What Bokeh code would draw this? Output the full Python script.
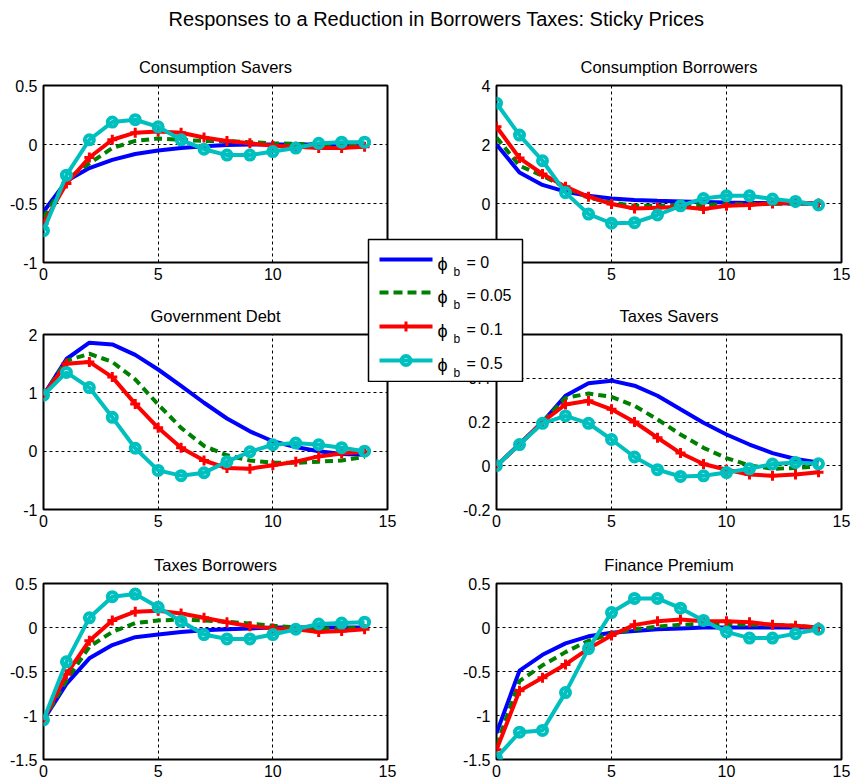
from bokeh.plotting import figure
from bokeh.models import Column, FixedTicker, Range1d
from bokeh.embed import file_html
from bokeh.resources import INLINE
from bokeh.core.properties import value

# ---------------- data ----------------
periods = list(range(15))
x_ticks = [0, 5, 10, 15]
phi_labels = ["0", "0.05", "0.1", "0.5"]
main_title = "Responses to a Reduction in Borrowers Taxes: Sticky Prices"

cs_titles = "Consumption Savers"
cs_phi0 = [-0.57, -0.31, -0.20, -0.13, -0.08, -0.05, -0.03, -0.015, -0.005, 0.0, 0.0, 0.0, 0.0, 0.0, 0.0]
cs_phi005 = [-0.62, -0.30, -0.16, -0.03, 0.03, 0.05, 0.04, 0.03, 0.03, 0.02, 0.01, 0.005, 0.0, 0.0, 0.0]
cs_phi01 = [-0.67, -0.33, -0.11, 0.04, 0.10, 0.11, 0.10, 0.06, 0.03, 0.01, -0.01, -0.02, -0.03, -0.03, -0.02]
cs_phi05 = [-0.73, -0.26, 0.04, 0.19, 0.21, 0.15, 0.04, -0.04, -0.09, -0.09, -0.06, -0.03, 0.01, 0.02, 0.02]
cs_yticks = [-1, -0.5, 0, 0.5]
cs_ylabels = ["-1", "-0.5", "0", "0.5"]

cb_title = "Consumption Borrowers"
cb_phi0 = [2.0, 1.05, 0.63, 0.40, 0.26, 0.17, 0.12, 0.09, 0.07, 0.05, 0.03, 0.02, 0.01, 0.0, 0.0]
cb_phi005 = [2.24, 1.28, 0.94, 0.54, 0.20, 0.03, -0.08, -0.08, -0.05, -0.05, -0.03, -0.02, -0.01, 0.0, 0.0]
cb_phi01 = [2.6, 1.54, 1.0, 0.57, 0.23, -0.02, -0.17, -0.14, -0.11, -0.19, -0.08, -0.05, 0.0, 0.03, 0.0]
cb_phi05 = [3.40, 2.32, 1.45, 0.37, -0.36, -0.67, -0.65, -0.39, -0.08, 0.17, 0.26, 0.26, 0.15, 0.07, -0.05]
cb_yticks = [-2, 0, 2, 4]
cb_ylabels = ["-2", "0", "2", "4"]

gd_title = "Government Debt"
gd_phi0 = [0.96, 1.58, 1.86, 1.83, 1.65, 1.40, 1.12, 0.83, 0.56, 0.34, 0.17, 0.07, 0.0, -0.05, -0.06]
gd_phi005 = [0.96, 1.55, 1.67, 1.53, 1.23, 0.80, 0.40, 0.09, -0.07, -0.16, -0.20, -0.20, -0.18, -0.16, -0.10]
gd_phi01 = [0.96, 1.50, 1.53, 1.27, 0.81, 0.40, 0.06, -0.16, -0.29, -0.30, -0.24, -0.18, -0.09, -0.04, -0.01]
gd_phi05 = [0.96, 1.35, 1.09, 0.58, 0.05, -0.33, -0.42, -0.37, -0.18, -0.01, 0.11, 0.14, 0.11, 0.06, 0.0]
gd_yticks = [-1, 0, 1, 2]
gd_ylabels = ["-1", "0", "1", "2"]

ts_title = "Taxes Savers"
ts_phi0 = [0.0, 0.10, 0.20, 0.32, 0.377, 0.389, 0.366, 0.32, 0.258, 0.197, 0.143, 0.097, 0.058, 0.031, 0.015]
ts_phi005 = [0.0, 0.097, 0.20, 0.31, 0.33, 0.315, 0.274, 0.212, 0.143, 0.082, 0.035, 0.002, -0.014, -0.01, -0.003]
ts_phi01 = [0.0, 0.097, 0.20, 0.28, 0.297, 0.258, 0.20, 0.128, 0.058, 0.008, -0.018, -0.04, -0.046, -0.04, -0.03]
ts_phi05 = [0.0, 0.097, 0.194, 0.228, 0.194, 0.12, 0.04, -0.018, -0.049, -0.046, -0.031, -0.014, 0.008, 0.015, 0.009]
ts_yticks = [-0.2, 0, 0.2, 0.4, 0.6]
ts_ylabels = ["-0.2", "0", "0.2", "0.4", "0.6"]

tb_title = "Taxes Borrowers"
tb_phi0 = [-1.05, -0.64, -0.35, -0.20, -0.11, -0.08, -0.05, -0.03, -0.02, -0.01, 0.0, 0.0, 0.0, 0.0, 0.0]
tb_phi005 = [-1.05, -0.60, -0.22, -0.05, 0.05, 0.08, 0.09, 0.08, 0.065, 0.045, 0.02, 0.0, -0.01, -0.01, 0.0]
tb_phi01 = [-1.05, -0.53, -0.15, 0.08, 0.18, 0.19, 0.16, 0.11, 0.06, 0.015, -0.01, -0.02, -0.05, -0.04, -0.02]
tb_phi05 = [-1.05, -0.39, 0.11, 0.35, 0.38, 0.23, 0.07, -0.08, -0.13, -0.13, -0.08, -0.02, 0.04, 0.05, 0.06]
tb_yticks = [-1.5, -1, -0.5, 0, 0.5]
tb_ylabels = ["-1.5", "-1", "-0.5", "0", "0.5"]

fp_title = "Finance Premium"
fp_phi0 = [-1.20, -0.49, -0.31, -0.18, -0.10, -0.06, -0.04, -0.02, -0.01, 0.0, 0.0, 0.0, 0.0, 0.0, 0.0]
fp_phi005 = [-1.34, -0.61, -0.43, -0.28, -0.15, -0.07, -0.02, 0.01, 0.03, 0.04, 0.04, 0.03, 0.03, 0.02, 0.0]
fp_phi01 = [-1.39, -0.72, -0.57, -0.42, -0.24, -0.09, 0.03, 0.07, 0.09, 0.07, 0.07, 0.06, 0.03, 0.02, 0.0]
fp_phi05 = [-1.48, -1.19, -1.17, -0.74, -0.24, 0.17, 0.33, 0.33, 0.22, 0.08, -0.05, -0.12, -0.12, -0.07, -0.02]
fp_yticks = [-1.5, -1, -0.5, 0, 0.5]
fp_ylabels = ["-1.5", "-1", "-0.5", "0", "0.5"]

# ---------------- style ----------------
FONT = "Liberation Sans"
BLUE, GREEN, RED, CYAN = "#0000FF", "#008000", "#FF0000", "#00BFBF"
LW = 4
GREEN_DASH = "8 5"
BL, BR = 43, 14  # common left/right borders (Bokeh aligns them inside a Column)


def pos(left, top):
    return {"position": "absolute", "left": f"{left}px", "top": f"{top}px"}


def panel(title, series, yticks, ylabels, left, top, fw, fh):
    p = figure(frame_width=fw, frame_height=fh,
               x_range=Range1d(0, 15), y_range=Range1d(yticks[0], yticks[-1]),
               output_backend="svg", toolbar_location=None,
               min_border_left=BL, min_border_right=BR,
               min_border_top=40, min_border_bottom=22,
               background_fill_color="white", border_fill_color="white",
               styles=pos(left, top))
    p.title.text = title
    p.title.align = "center"
    p.title.text_font = FONT
    p.title.text_font_size = "16.5px"
    p.title.text_font_style = "normal"
    p.title.text_color = "black"
    p.title.standoff = 20
    p.outline_line_color = "black"
    p.outline_line_width = 2
    p.outline_line_alpha = 1

    p.xaxis.ticker = FixedTicker(ticks=x_ticks)
    p.xaxis.major_label_overrides = {t: str(t) for t in x_ticks}
    p.yaxis.ticker = FixedTicker(ticks=yticks)
    p.yaxis.major_label_overrides = dict(zip(yticks, ylabels))
    for ax in (p.xaxis, p.yaxis):
        ax.axis_line_color = None
        ax.major_tick_out = 0
        ax.major_tick_in = 0
        ax.minor_tick_line_color = None
        ax.major_label_text_font = FONT
        ax.major_label_text_font_size = "16px"
        ax.major_label_text_color = "black"
    p.xaxis.major_label_standoff = 5
    p.yaxis.major_label_standoff = 6
    p.grid.grid_line_color = "black"
    p.grid.grid_line_dash = "3 3"
    p.grid.grid_line_width = 1

    b0, g05, r1, c5 = series
    p.line(periods, b0, line_color=BLUE, line_width=LW)
    p.line(periods, g05, line_color=GREEN, line_width=LW, line_dash=GREEN_DASH)
    p.line(periods, r1, line_color=RED, line_width=LW)
    p.scatter(periods, r1, marker="cross", size=10, line_color=RED, line_width=3)
    p.line(periods, c5, line_color=CYAN, line_width=LW)
    p.scatter(periods, c5, marker="circle", size=9, line_color=CYAN,
              fill_color=None, line_width=4)
    return p


LW_FW, RW_FW = 344, 345
panels = [
    panel(cs_titles, (cs_phi0, cs_phi005, cs_phi01, cs_phi05), cs_yticks, cs_ylabels, 0, 45, LW_FW, 177),
    panel(cb_title, (cb_phi0, cb_phi005, cb_phi01, cb_phi05), cb_yticks, cb_ylabels, 453, 45, RW_FW, 177),
    panel(gd_title, (gd_phi0, gd_phi005, gd_phi01, gd_phi05), gd_yticks, gd_ylabels, 0, 294, LW_FW, 175),
    panel(ts_title, (ts_phi0, ts_phi005, ts_phi01, ts_phi05), ts_yticks, ts_ylabels, 453, 294, RW_FW, 175),
    panel(tb_title, (tb_phi0, tb_phi005, tb_phi01, tb_phi05), tb_yticks, tb_ylabels, 0, 543, LW_FW, 176),
    panel(fp_title, (fp_phi0, fp_phi005, fp_phi01, fp_phi05), fp_yticks, fp_ylabels, 453, 543, RW_FW, 176),
]

# ---------------- header ----------------
HW = 854 - BL - BR
head = figure(title=None, frame_width=HW, frame_height=40,
              x_range=Range1d(BL, BL + HW), y_range=Range1d(40, 0),
              output_backend="svg", toolbar_location=None,
              min_border_left=BL, min_border_right=BR, min_border_top=0, min_border_bottom=0,
              x_axis_location=None, y_axis_location=None, styles=pos(0, 0),
              border_fill_color=None, background_fill_color=None)
head.outline_line_color = None
head.grid.visible = False
head.text(x=[436], y=[18], text=[main_title], text_font=value(FONT), text_font_size="20px",
          text_align="center", text_baseline="alphabetic", text_color="black")

# ---------------- legend ----------------
leg = figure(title=None, frame_width=154, frame_height=142,
             x_range=Range1d(0, 154), y_range=Range1d(142, 0),
             output_backend="svg", toolbar_location=None,
             min_border_left=BL, min_border_right=BR, min_border_top=1, min_border_bottom=1,
             x_axis_location=None, y_axis_location=None, styles=pos(368 - BL, 238),
             background_fill_color="white", border_fill_color=None)
leg.grid.visible = False
leg.outline_line_color = "black"
leg.outline_line_width = 1.5
rows = [20, 53, 87, 121]
colors = [BLUE, GREEN, RED, CYAN]
for i, (ry, col, lab) in enumerate(zip(rows, colors, phi_labels)):
    kw = dict(line_color=col, line_width=LW)
    if i == 1:
        kw["line_dash"] = "9 5"
    leg.line([11, 64], [ry, ry], **kw)
    if i == 2:
        leg.scatter([37.5], [ry], marker="cross", size=10, line_color=RED, line_width=3)
    if i == 3:
        leg.scatter([37.5], [ry], marker="circle", size=9, line_color=CYAN, fill_color=None, line_width=4)
    leg.text(x=[69], y=[ry + 4], text=["\u03d5"], text_font=value(FONT), text_font_size="18px",
             text_baseline="alphabetic", text_color="black")
    leg.text(x=[85], y=[ry + 12], text=["b"], text_font=value(FONT), text_font_size="12px",
             text_baseline="alphabetic", text_color="black")
    leg.text(x=[98], y=[ry + 3], text=["= " + lab], text_font=value(FONT), text_font_size="16px",
             text_baseline="alphabetic", text_color="black")

root = Column(children=[head] + panels + [leg], width=854, height=782, sizing_mode="fixed",
              styles={"position": "relative", "overflow": "hidden"})

open("out.html", "w").write(file_html(root, INLINE))
